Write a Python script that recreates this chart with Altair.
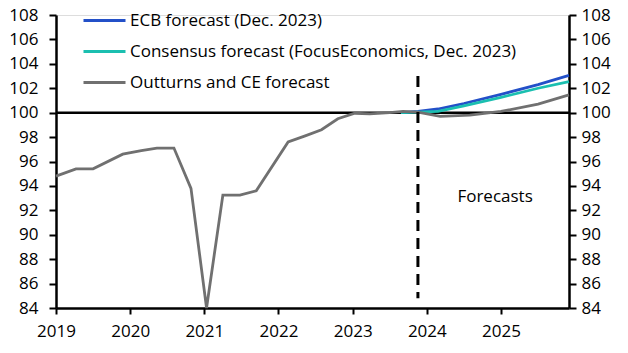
import altair as alt
import pandas as pd

FONT = "Open Sans"
FS = 17

# Outturns and CE forecast (grey)
ce_x = [2019.0, 2019.27, 2019.5, 2019.9, 2020.15, 2020.36, 2020.59, 2020.82, 2021.03, 2021.25,
        2021.48, 2021.7, 2022.13, 2022.36, 2022.58, 2022.8, 2023.03, 2023.23, 2023.5, 2023.68,
        2023.88, 2024.18, 2024.58, 2025.0, 2025.5, 2025.917]
ce_y = [94.8, 95.4, 95.4, 96.6, 96.9, 97.1, 97.1, 93.8, 84.0, 93.25,
        93.25, 93.6, 97.6, 98.1, 98.6, 99.5, 99.95, 99.9, 100.0, 100.1,
        100.05, 99.7, 99.8, 100.1, 100.7, 101.45]

# ECB forecast (Dec. 2023)
ecb_x = [2023.65, 2023.88, 2024.15, 2024.5, 2025.0, 2025.5, 2025.917]
ecb_y = [100.0, 100.1, 100.3, 100.75, 101.5, 102.3, 103.05]

# Consensus forecast (FocusEconomics, Dec. 2023)
con_x = [2023.65, 2023.88, 2024.15, 2024.5, 2025.0, 2025.5, 2025.917]
con_y = [100.0, 100.05, 100.1, 100.55, 101.25, 102.0, 102.55]

series_names = ["ECB forecast (Dec. 2023)",
                "Consensus forecast (FocusEconomics, Dec. 2023)",
                "Outturns and CE forecast"]
series_colors = ["#2350c8", "#1bbfb0", "#707070"]

year_ticks = [2019, 2020, 2021, 2022, 2023, 2024, 2025]
y_ticks = list(range(84, 109, 2))

forecast_start = [2023.88]
dash_top, dash_bottom = [103.0], [84.8]
label_text = ["Forecasts"]
label_x, label_y = [2024.92], [93.1]

rows = []
for name, xs, ys in [(series_names[0], ecb_x, ecb_y),
                     (series_names[1], con_x, con_y),
                     (series_names[2], ce_x, ce_y)]:
    for xv, yv in zip(xs, ys):
        rows.append({"series": name, "x": xv, "y": yv})
df = pd.DataFrame(rows)

xscale = alt.Scale(domain=[2019, 2025.917], nice=False, zero=False)
yscale = alt.Scale(domain=[84, 108], nice=False, zero=False)

ax_common = dict(grid=False, domainColor="black", domainWidth=2.5, tickColor="black",
                 tickWidth=2, labelFont=FONT, labelFontSize=FS, labelColor="black", title=None,
                 labelOverlap=False, labelFlush=False)

xaxis = alt.Axis(values=year_ticks, format="d", tickSize=6, labelPadding=9, **ax_common)
yaxis_left = alt.Axis(values=y_ticks, orient="left", tickSize=7, labelPadding=11, **ax_common)
yaxis_right = alt.Axis(values=y_ticks, orient="right", tickSize=7, labelPadding=5, **ax_common)

base_rule = alt.Chart(pd.DataFrame({"v": [100]})).mark_rule(
    color="black", strokeWidth=2.5
).encode(y=alt.Y("v:Q", scale=yscale, axis=yaxis_right))

lines = alt.Chart(df).mark_line(strokeWidth=2.8).encode(
    x=alt.X("x:Q", scale=xscale, axis=xaxis),
    y=alt.Y("y:Q", scale=yscale, axis=yaxis_left),
    color=alt.Color("series:N",
                    scale=alt.Scale(domain=series_names, range=series_colors),
                    sort=series_names,
                    legend=alt.Legend(orient="none", legendX=26, legendY=-10, title=None,
                                      symbolType="stroke", symbolSize=1764,
                                      symbolStrokeWidth=3, labelFont=FONT,
                                      labelFontSize=FS, labelColor="black", labelLimit=0,
                                      clipHeight=31, rowPadding=0, labelOffset=3)),
    detail="series:N",
)

dash = alt.Chart(pd.DataFrame({"x": forecast_start, "y1": dash_top, "y2": dash_bottom})).mark_rule(
    color="black", strokeWidth=3, strokeDash=[11, 7]
).encode(x=alt.X("x:Q", scale=xscale, axis=xaxis),
         y=alt.Y("y1:Q", scale=yscale, axis=yaxis_left), y2="y2:Q")

txt = alt.Chart(pd.DataFrame({"x": label_x, "y": label_y, "t": label_text})).mark_text(
    font=FONT, fontSize=FS, color="black", align="center", baseline="middle"
).encode(x=alt.X("x:Q", scale=xscale, axis=xaxis),
         y=alt.Y("y:Q", scale=yscale, axis=yaxis_left), text="t:N")

fg = alt.layer(lines, dash, txt)

chart = alt.layer(base_rule, fg).resolve_scale(y="independent").properties(
    width=513, height=293,
    autosize=alt.AutoSizeParams(type="none"),
    padding={"left": 56, "top": 15, "right": 59, "bottom": 45},
).configure_view(stroke=None).configure(background="white")

chart.save("out.html", embed_options={"renderer": "svg", "actions": False})
